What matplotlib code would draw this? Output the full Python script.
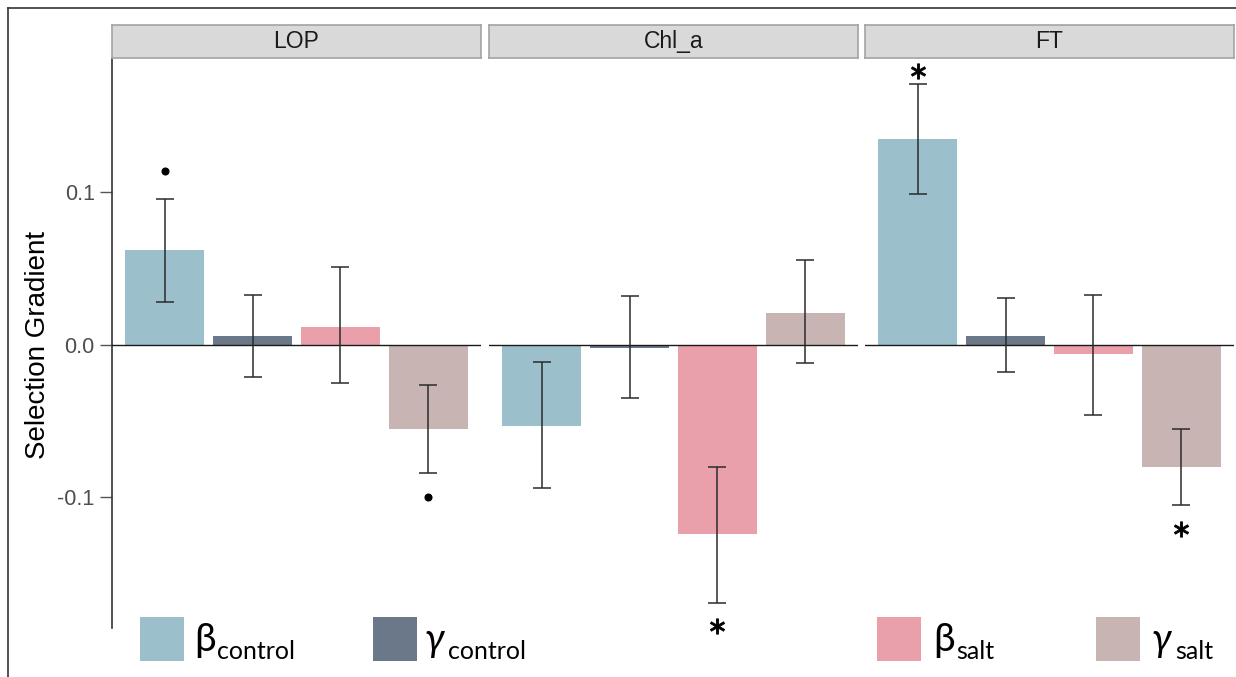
import matplotlib
matplotlib.use('Agg')
import matplotlib.pyplot as plt
import matplotlib.transforms as mtransforms
from matplotlib.patches import Rectangle
from matplotlib.lines import Line2D
import numpy as np

# ---------------- data ----------------
traits = ['LOP', 'Chl_a', 'FT']
groups = ['control_beta', 'control_gamma', 'salt_beta', 'salt_gamma']
bar_colors = ['#9BBFCB', '#6A7889', '#E9A0AA', '#C9B4B4']

lop_vals = [0.062, 0.006, 0.012, -0.055]
lop_lo = [0.028, -0.021, -0.025, -0.084]
lop_hi = [0.096, 0.033, 0.051, -0.026]
lop_sig = ['dot', '', '', 'dot']

chl_vals = [-0.053, -0.002, -0.124, 0.021]
chl_lo = [-0.094, -0.035, -0.169, -0.012]
chl_hi = [-0.011, 0.032, -0.080, 0.056]
chl_sig = ['', '', 'star', '']

ft_vals = [0.135, 0.006, -0.006, -0.080]
ft_lo = [0.099, -0.018, -0.046, -0.105]
ft_hi = [0.171, 0.031, 0.033, -0.055]
ft_sig = ['star', '', '', 'star']

ytick_vals = [-0.1, 0.0, 0.1]
ytick_labels = ['-0.1', '0.0', '0.1']

legend_greek = ['β', 'γ', 'β', 'γ']
legend_sub = ['control', 'control', 'salt', 'salt']

# ---------------- figure ----------------
W, H = 1236, 677
fig = plt.figure(figsize=(W / 100, H / 100), dpi=100)
fig.patch.set_facecolor('white')

def fx(px):
    return px / W

def fy(py):
    return 1 - py / H

panel_left = [112, 489, 865]
panel_w = 369
panel_top, panel_bot = 58, 628
strip_top = 25
ylim = (-0.1856, 0.1882)

axis_font = ['Liberation Sans', 'DejaVu Sans']

all_vals = [lop_vals, chl_vals, ft_vals]
all_lo = [lop_lo, chl_lo, ft_lo]
all_hi = [lop_hi, chl_hi, ft_hi]
all_sig = [lop_sig, chl_sig, ft_sig]

x = np.arange(1, 5)
for i, trait in enumerate(traits):
    ax = fig.add_axes([fx(panel_left[i]), fy(panel_bot), panel_w / W,
                       (panel_bot - panel_top) / H])
    vals = np.array(all_vals[i])
    lo = np.array(all_lo[i])
    hi = np.array(all_hi[i])
    ax.bar(x, vals, width=0.9, color=bar_colors, zorder=2)
    ax.axhline(0, color='#1a1a1a', lw=1.0, zorder=3)
    ax.errorbar(x, vals, yerr=[vals - lo, hi - vals], fmt='none',
                ecolor='#2b2b2b', elinewidth=1.1, capsize=6.5, capthick=1.1,
                zorder=4)
    ax.set_xlim(0.4, 4.6)
    ax.set_ylim(*ylim)
    ax.set_xticks([])
    for s in ['top', 'right', 'bottom']:
        ax.spines[s].set_visible(False)
    if i == 0:
        ax.spines['left'].set_color('#333333')
        ax.spines['left'].set_linewidth(1.2)
        ax.set_yticks(ytick_vals)
        ax.set_yticklabels(ytick_labels, fontsize=15.5, color='#4D4D4D',
                           family=axis_font)
        ax.tick_params(axis='y', length=8.5, width=1.0, color='#555555', pad=4)
    else:
        ax.spines['left'].set_visible(False)
        ax.set_yticks([])

    # significance markers
    for j, s in enumerate(all_sig[i]):
        if not s:
            continue
        if vals[j] > 0:
            yv = hi[j]
            off = 20 if s == 'dot' else 9.5
        else:
            yv = lo[j]
            off = -17
        tr = mtransforms.offset_copy(ax.transData, fig=fig, y=off, units='points')
        if s == 'dot':
            ax.plot([x[j]], [yv], marker='o', ms=4.8, color='black',
                    transform=tr, clip_on=False, zorder=5)
        else:
            ax.plot([x[j]], [yv], marker=r'$\ast$', ms=11, color='black',
                    mew=0.6, transform=tr, clip_on=False, zorder=5)

    # strip
    sax = fig.add_axes([fx(panel_left[i]), fy(panel_top), panel_w / W,
                        (panel_top - strip_top) / H])
    sax.set_facecolor('#D9D9D9')
    sax.set_xticks([])
    sax.set_yticks([])
    for sp in sax.spines.values():
        sp.set_color('#A3A3A3')
        sp.set_linewidth(1.2)
    sax.text(0.5, 0.5, trait, ha='center', va='center', fontsize=16.5,
             color='#1A1A1A', family=axis_font, transform=sax.transAxes)

# y label
fig.text(fx(38), fy(345), 'Selection Gradient', rotation=90, ha='center',
         va='center', fontsize=20, color='black', family=axis_font)

# legend (drawn as figure annotations)
sq_left = [140, 373, 877, 1096]
sq_top = 617
sq_size = 44
greek_x = [194, 425, 933, 1152]
sub_x = [217, 448, 956, 1175]
leg_font = ['Lato', 'Noto Sans', 'DejaVu Sans']
for k in range(4):
    fig.patches.append(Rectangle((fx(sq_left[k]), fy(sq_top + sq_size)),
                                 sq_size / W, sq_size / H,
                                 transform=fig.transFigure,
                                 facecolor=bar_colors[k], edgecolor='none'))
    style = 'italic' if legend_greek[k] == 'γ' else 'normal'
    fig.text(fx(greek_x[k]), fy(651), legend_greek[k], ha='left',
             va='baseline', fontsize=28, color='black', family=leg_font,
             style=style)
    fig.text(fx(sub_x[k]), fy(659), legend_sub[k], ha='left',
             va='baseline', fontsize=18, color='black', family=leg_font)

# outer frame (left and top)
fig.lines.append(Line2D([fx(8), fx(8)], [fy(8), 0], transform=fig.transFigure,
                        color='#333333', lw=1.2))
fig.lines.append(Line2D([fx(8), 1], [fy(8), fy(8)], transform=fig.transFigure,
                        color='#333333', lw=1.2))

fig.savefig('out.png', dpi=100, facecolor='white')
